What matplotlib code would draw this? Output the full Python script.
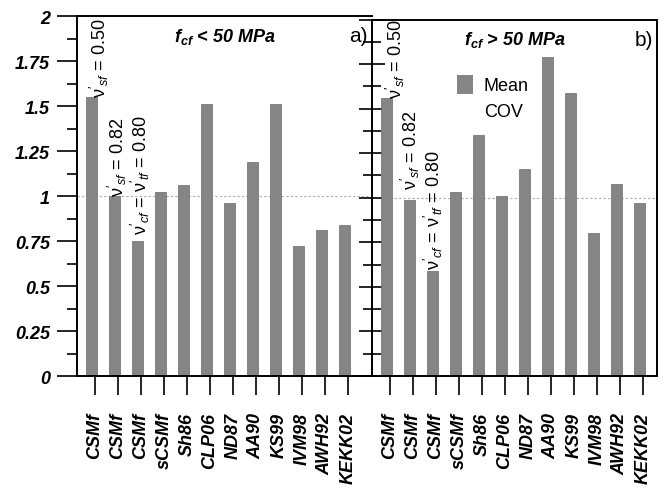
import matplotlib
matplotlib.use("Agg")
import numpy as np
import matplotlib.pyplot as plt
from matplotlib.patches import Patch
from matplotlib.ticker import MultipleLocator

plt.rcParams["font.family"] = ["Liberation Sans", "DejaVu Sans"]
plt.rcParams["mathtext.fontset"] = "custom"
plt.rcParams["mathtext.rm"] = "Liberation Sans"
plt.rcParams["mathtext.it"] = "Liberation Sans:italic"
plt.rcParams["mathtext.bf"] = "Liberation Sans:bold:italic"

# model labels (same order in both panels)
models = ["CSMf", "CSMf", "CSMf", "sCSMf", "Sh86", "CLP06", "ND87",
          "AA90", "KS99", "IVM98", "AWH92", "KEKK02"]

# mean ratio, f'c < 50 MPa
mean_low = [1.55, 1.00, 0.75, 1.02, 1.06, 1.51, 0.96, 1.19, 1.51, 0.72, 0.81, 0.84]
# mean ratio, f'c > 50 MPa
mean_high = [1.56, 0.99, 0.59, 1.03, 1.35, 1.01, 1.16, 1.79, 1.59, 0.80, 1.08, 0.97]

# labels written above the first three (CSMf) bars
nu_labels = [r"$\mathrm{\nu}'_{sf}$ = 0.50",
             r"$\mathrm{\nu}'_{sf}$ = 0.82",
             r"$\mathrm{\nu}'_{cf}$ = $\mathrm{\nu}'_{tf}$ = 0.80"]

BAR_COLOR = "#858585"
x = np.arange(len(models))

fig = plt.figure(figsize=(6.67, 4.89), dpi=100)
ax1 = fig.add_axes([0.1154, 0.229, 0.4423, 0.736])
ax2 = fig.add_axes([0.5577, 0.229, 0.4273, 0.729])


def draw_panel(ax, values, title, tag, xlim, txt_x, txt_dy):
    ax.bar(x - 0.15, values, width=0.47, color=BAR_COLOR, edgecolor="#6a6a6a",
           linewidth=0.5, zorder=2)
    ax.axhline(1.0, color="#aaaaaa", lw=0.8, ls=(0, (2, 2)), zorder=1)
    ax.set_xlim(*xlim)
    ax.set_ylim(0, 2)
    ax.set_xticks(x)
    ax.set_xticklabels(models, rotation=90, fontsize=13, fontweight="bold",
                       style="italic")
    ax.tick_params(axis="x", direction="out", length=14, width=1.2, pad=12)
    ax.yaxis.set_major_locator(MultipleLocator(0.25))
    ax.yaxis.set_minor_locator(MultipleLocator(0.125))
    for s in ax.spines.values():
        s.set_linewidth(1.4)
    ax.text(0.5, 0.945, r"$\mathbf{f_{cf}}$" + title, transform=ax.transAxes,
            ha="center", va="center", fontsize=13, fontweight="bold",
            style="italic")
    ax.text(0.985, 0.945, tag, transform=ax.transAxes, ha="right",
            va="center", fontsize=15)
    for i, lab in enumerate(nu_labels):
        ax.text(txt_x[i], values[i] + txt_dy[i], lab, rotation=90,
                ha="center", va="bottom", fontsize=13)


draw_panel(ax1, mean_low, " < 50 MPa", "a)", (-0.78, 12.04),
           [0.2, 0.96, 2.0], [0.0, 0.0, 0.04])
draw_panel(ax2, mean_high, " > 50 MPa", "b)", (-0.78, 11.6),
           [0.26, 0.91, 1.87], [0.0, 0.06, 0.01])

# left panel: labelled y axis with outward ticks
ax1.set_yticks(np.arange(0, 2.01, 0.25))
ax1.set_yticklabels(["0", "0.25", "0.5", "0.75", "1", "1.25", "1.5", "1.75", "2"],
                    fontsize=13, fontweight="bold", style="italic")
ax1.tick_params(axis="y", which="major", direction="out", length=14.5,
                width=1.2, pad=5)
ax1.tick_params(axis="y", which="minor", direction="out", length=7, width=1.2)
ax1.spines["right"].set_visible(False)

# right panel: unlabelled y axis with crossing ticks
ax2.tick_params(axis="y", which="major", direction="inout", length=19,
                width=1.2, labelleft=False)
ax2.tick_params(axis="y", which="minor", direction="inout", length=13,
                width=1.2)

ax2.legend(handles=[Patch(facecolor=BAR_COLOR, edgecolor="none"),
                    Patch(facecolor="none", edgecolor="none")],
           labels=["Mean", "COV"], loc="upper left",
           bbox_to_anchor=(0.24, 0.89), frameon=False, fontsize=13,
           handlelength=0.9, handleheight=1.2, handletextpad=0.6,
           labelspacing=0.35)

fig.savefig("out.png", dpi=100)
